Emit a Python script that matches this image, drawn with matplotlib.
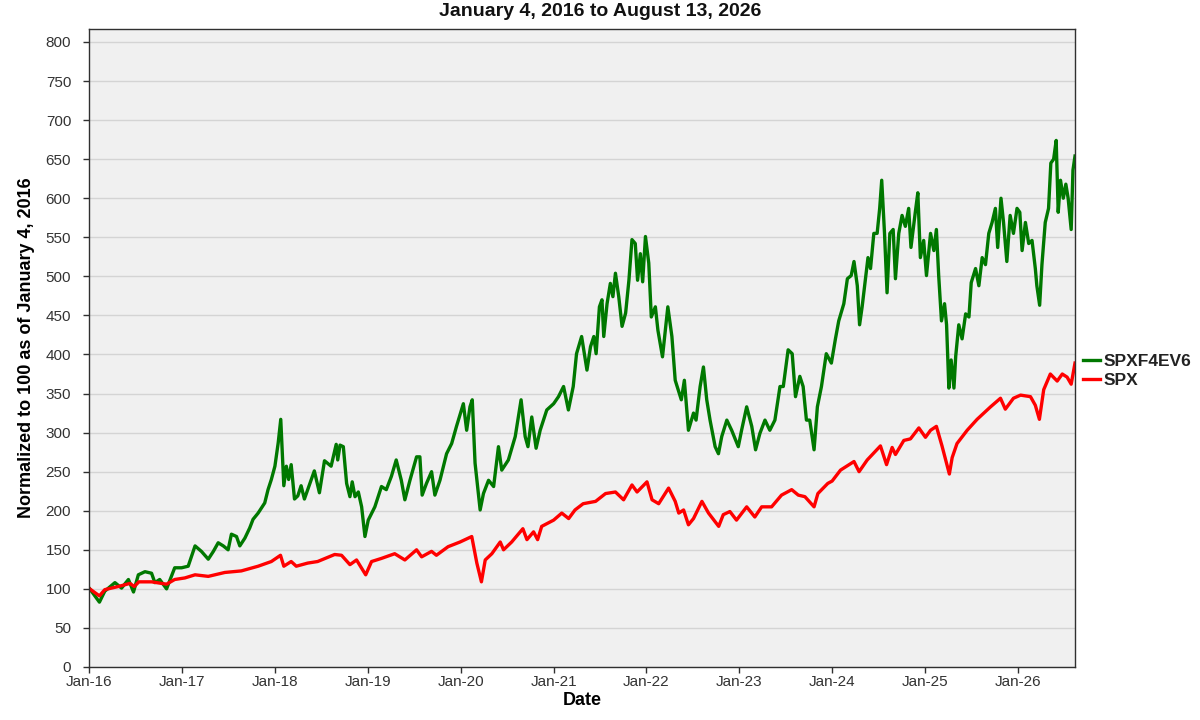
import matplotlib
matplotlib.use('Agg')
import matplotlib.pyplot as pl
import matplotlib.dates as mdates
import numpy as np
import pandas as pd

##############################################################################
# values
green_dates = ['2016-01-04', '2016-02-11', '2016-03-03', '2016-04-12', '2016-05-08', '2016-06-04',
               '2016-06-24', '2016-07-13', '2016-08-08', '2016-09-03', '2016-09-16', '2016-10-05',
               '2016-11-01', '2016-12-03', '2016-12-30', '2017-01-25', '2017-02-21', '2017-03-18',
               '2017-04-14', '2017-05-04', '2017-05-23', '2017-06-12', '2017-07-01', '2017-07-14',
               '2017-08-03', '2017-08-16', '2017-09-05', '2017-09-24', '2017-10-07', '2017-10-27',
               '2017-11-22', '2017-12-05', '2017-12-18', '2018-01-01', '2018-01-14', '2018-01-24',
               '2018-02-05', '2018-02-15', '2018-02-24', '2018-03-06', '2018-03-19', '2018-04-01',
               '2018-04-14', '2018-04-27', '2018-05-10', '2018-06-05', '2018-06-25', '2018-07-15',
               '2018-08-10', '2018-08-30', '2018-09-05', '2018-09-14', '2018-09-27', '2018-10-10',
               '2018-10-23', '2018-11-01', '2018-11-12', '2018-11-25', '2018-12-08', '2018-12-21',
               '2019-01-03', '2019-01-29', '2019-02-24', '2019-03-15', '2019-04-04', '2019-04-23',
               '2019-05-13', '2019-05-27', '2019-06-16', '2019-07-12', '2019-07-25', '2019-08-03',
               '2019-08-20', '2019-09-09', '2019-09-22', '2019-10-12', '2019-11-07', '2019-11-27',
               '2019-12-16', '2020-01-12', '2020-01-25', '2020-02-07', '2020-02-16', '2020-02-27',
               '2020-03-18', '2020-03-31', '2020-04-20', '2020-05-10', '2020-05-29', '2020-06-11',
               '2020-07-07', '2020-08-03', '2020-08-26', '2020-09-11', '2020-09-22', '2020-10-07',
               '2020-10-24', '2020-11-09', '2020-12-05', '2021-01-01', '2021-01-20', '2021-02-09',
               '2021-02-28', '2021-03-19', '2021-04-01', '2021-04-21', '2021-05-12', '2021-05-26',
               '2021-06-08', '2021-06-17', '2021-06-30', '2021-07-10', '2021-07-17', '2021-07-30',
               '2021-08-12', '2021-08-22', '2021-09-01', '2021-09-14', '2021-09-27', '2021-10-11',
               '2021-10-24', '2021-11-05', '2021-11-18', '2021-11-27', '2021-12-08', '2021-12-17',
               '2021-12-28', '2022-01-10', '2022-01-20', '2022-02-05', '2022-02-15', '2022-03-05',
               '2022-03-16', '2022-03-26', '2022-04-11', '2022-04-24', '2022-05-18', '2022-05-30',
               '2022-06-15', '2022-07-05', '2022-07-15', '2022-07-31', '2022-08-13', '2022-08-26',
               '2022-09-08', '2022-09-28', '2022-10-11', '2022-10-24', '2022-11-13', '2022-12-02',
               '2022-12-28', '2023-01-10', '2023-01-30', '2023-02-19', '2023-03-06', '2023-03-23',
               '2023-04-12', '2023-05-01', '2023-05-21', '2023-06-10', '2023-06-23', '2023-07-12',
               '2023-07-28', '2023-08-10', '2023-08-27', '2023-09-09', '2023-09-22', '2023-10-05',
               '2023-10-22', '2023-11-04', '2023-11-20', '2023-12-09', '2023-12-29', '2024-01-14',
               '2024-01-27', '2024-02-16', '2024-03-01', '2024-03-16', '2024-03-27', '2024-04-09',
               '2024-04-18', '2024-04-28', '2024-05-11', '2024-05-21', '2024-05-31', '2024-06-13',
               '2024-06-26', '2024-07-06', '2024-07-14', '2024-07-25', '2024-08-04', '2024-08-15',
               '2024-08-28', '2024-09-06', '2024-09-19', '2024-10-02', '2024-10-15', '2024-10-28',
               '2024-11-06', '2024-11-23', '2024-12-03', '2024-12-13', '2024-12-26', '2025-01-06',
               '2025-01-22', '2025-02-04', '2025-02-14', '2025-02-23', '2025-03-06', '2025-03-18',
               '2025-03-26', '2025-04-04', '2025-04-13', '2025-04-24', '2025-05-01', '2025-05-13',
               '2025-05-26', '2025-06-09', '2025-06-22', '2025-07-01', '2025-07-18', '2025-07-31',
               '2025-08-13', '2025-08-26', '2025-09-08', '2025-09-21', '2025-10-04', '2025-10-13',
               '2025-10-26', '2025-11-05', '2025-11-18', '2025-12-01', '2025-12-14', '2025-12-28',
               '2026-01-08', '2026-01-17', '2026-01-30', '2026-02-12', '2026-02-25', '2026-03-10',
               '2026-03-16', '2026-03-27', '2026-04-05', '2026-04-18', '2026-05-01', '2026-05-10',
               '2026-05-21', '2026-05-31', '2026-06-08', '2026-06-17', '2026-06-28', '2026-07-08',
               '2026-07-17', '2026-07-29', '2026-08-05', '2026-08-13']
green_vals = [100, 83, 97, 108, 101, 112,
              96, 118, 122, 120, 108, 112,
              100, 127, 127, 129, 155, 148,
              138, 148, 159, 155, 150, 170,
              167, 155, 165, 178, 189, 197,
              210, 227, 240, 257, 287, 317,
              232, 257, 240, 259, 215, 219,
              232, 215, 227, 251, 223, 264,
              257, 285, 265, 284, 282, 235,
              218, 237, 218, 224, 205, 167,
              188, 205, 231, 227, 244, 265,
              239, 214, 239, 269, 269, 220,
              235, 250, 220, 239, 273, 286,
              308, 337, 303, 333, 342, 261,
              201, 222, 239, 231, 282, 252,
              265, 295, 342, 295, 282, 320,
              280, 303, 329, 337, 346, 359,
              329, 359, 401, 423, 380, 410,
              423, 401, 461, 470, 423, 465,
              491, 474, 504, 474, 436, 453,
              495, 547, 542, 495, 529, 493,
              551, 517, 448, 461, 431, 397,
              431, 461, 423, 367, 342, 367,
              303, 325, 316, 359, 384, 342,
              316, 282, 273, 295, 316, 303,
              282, 303, 333, 308, 278, 299,
              316, 303, 316, 359, 359, 406,
              401, 346, 372, 359, 316, 316,
              278, 333, 359, 401, 389, 420,
              443, 465, 497, 501, 519, 488,
              438, 461, 497, 524, 510, 555,
              555, 587, 623, 555, 479, 555,
              560, 497, 555, 578, 564, 587,
              537, 582, 607, 524, 546, 501,
              555, 533, 560, 501, 443, 465,
              438, 357, 393, 357, 398, 438,
              420, 452, 448, 492, 510, 488,
              524, 515, 555, 569, 587, 537,
              600, 569, 519, 578, 555, 587,
              582, 533, 569, 542, 546, 510,
              488, 463, 515, 569, 587, 645,
              650, 674, 582, 623, 600, 618,
              600, 560, 636, 654]

red_dates = ['2016-01-04', '2016-02-11', '2016-03-03', '2016-04-25', '2016-06-10', '2016-06-27',
             '2016-07-15', '2016-09-03', '2016-11-01', '2016-12-03', '2017-01-12', '2017-02-21',
             '2017-04-14', '2017-06-18', '2017-08-22', '2017-10-27', '2017-12-18', '2018-01-23',
             '2018-02-05', '2018-03-06', '2018-03-26', '2018-05-10', '2018-06-18', '2018-08-24',
             '2018-09-20', '2018-10-23', '2018-11-18', '2018-12-24', '2019-01-16', '2019-02-24',
             '2019-04-17', '2019-05-27', '2019-07-12', '2019-08-01', '2019-09-09', '2019-09-28',
             '2019-11-13', '2019-12-30', '2020-02-14', '2020-03-05', '2020-03-23', '2020-04-07',
             '2020-05-03', '2020-06-05', '2020-06-18', '2020-07-20', '2020-09-02', '2020-09-18',
             '2020-10-14', '2020-10-30', '2020-11-15', '2021-01-01', '2021-02-02', '2021-03-01',
             '2021-03-26', '2021-04-27', '2021-06-15', '2021-07-24', '2021-09-01', '2021-10-03',
             '2021-11-05', '2021-11-25', '2022-01-03', '2022-01-23', '2022-02-18', '2022-03-29',
             '2022-04-24', '2022-05-08', '2022-05-27', '2022-06-15', '2022-07-05', '2022-08-07',
             '2022-09-02', '2022-10-12', '2022-10-30', '2022-11-25', '2022-12-21', '2023-01-30',
             '2023-03-03', '2023-03-30', '2023-05-08', '2023-06-16', '2023-07-26', '2023-08-21',
             '2023-09-16', '2023-10-22', '2023-11-06', '2023-12-15', '2024-01-01', '2024-02-03',
             '2024-03-27', '2024-04-16', '2024-05-18', '2024-07-09', '2024-08-02', '2024-08-24',
             '2024-09-06', '2024-10-09', '2024-11-04', '2024-12-07', '2025-01-02', '2025-01-22',
             '2025-02-14', '2025-03-08', '2025-04-06', '2025-04-17', '2025-05-06', '2025-06-15',
             '2025-07-24', '2025-09-15', '2025-10-24', '2025-11-12', '2025-12-14', '2026-01-11',
             '2026-02-19', '2026-03-10', '2026-03-26', '2026-04-12', '2026-05-08', '2026-06-04',
             '2026-06-24', '2026-07-13', '2026-07-29', '2026-08-13']
red_vals = [100, 91, 99, 103, 107, 103,
            109, 109, 106, 112, 114, 118,
            116, 121, 123, 129, 135, 143,
            129, 135, 129, 133, 135, 144,
            143, 131, 137, 118, 135, 139,
            145, 137, 150, 141, 148, 143,
            154, 160, 167, 133, 109, 137,
            145, 160, 150, 160, 177, 163,
            173, 163, 180, 188, 197, 190,
            201, 209, 212, 222, 224, 214,
            233, 224, 237, 214, 209, 229,
            212, 197, 201, 182, 190, 212,
            197, 180, 195, 199, 188, 205,
            192, 205, 205, 220, 227, 220,
            218, 205, 222, 235, 238, 252,
            263, 250, 265, 283, 259, 281,
            272, 290, 292, 306, 294, 303,
            308, 283, 247, 268, 286, 303,
            317, 333, 344, 330, 344, 348,
            346, 335, 317, 355, 375, 366,
            375, 371, 362, 389]

series_names = ['SPXF4EV6', 'SPX']
series_colors = ['#007800', '#FF0000']
y_ticks = np.arange(0, 801, 50)
##############################################################################

pl.rcParams['font.family'] = ['Liberation Sans', 'DejaVu Sans']

fig = pl.figure(figsize=(12, 7.2), dpi=100)
ax = fig.add_axes([89/1200., 1-667/720., (1075-89)/1200., (667-29)/720.])
ax.set_facecolor('#F0F0F0')

ax.plot(pd.to_datetime(green_dates), green_vals, color=series_colors[0],
        label=series_names[0], linewidth=2.4)
ax.plot(pd.to_datetime(red_dates), red_vals, color=series_colors[1],
        label=series_names[1], linewidth=2.4)

ax.set_xlim(pd.Timestamp('2016-01-01'), pd.Timestamp('2026-08-13'))
ax.set_ylim(0, 816.6)
ax.set_yticks(y_ticks)
ax.yaxis.grid(True, color='#D4D4D4', linewidth=1.0)
ax.set_axisbelow(True)

ax.xaxis.set_major_locator(mdates.YearLocator())
ax.xaxis.set_major_formatter(mdates.DateFormatter('%b-%y'))

for s in ax.spines.values():
    s.set_color('#303030')
    s.set_linewidth(1.0)
ax.tick_params(axis='both', direction='out', length=4.3, width=1, color='#303030',
               labelsize=11, labelcolor='#333333')
ax.tick_params(axis='y', pad=8.5)
ax.tick_params(axis='x', pad=1.5)

fig.suptitle('January 4, 2016 to August 13, 2026', x=0.5, y=1-12/720., va='center',
             fontsize=14, fontweight='bold', color='#111111')
ax.set_xlabel('Date', fontsize=13, fontweight='bold', labelpad=2)
ax.set_ylabel('Normalized to 100 as of January 4, 2016', fontsize=13, fontweight='bold', labelpad=8)

leg = ax.legend(loc='center left', bbox_to_anchor=(1.0, 0.464), frameon=False,
                handlelength=1.0, handletextpad=0.2, borderaxespad=0.15, borderpad=0.3,
                labelspacing=0.25, prop=dict(size=12.5, weight='bold'))
for h in leg.get_lines():
    h.set_linewidth(2.4)
for t in leg.get_texts():
    t.set_color('#222222')

fig.savefig('out.png', dpi=100)
